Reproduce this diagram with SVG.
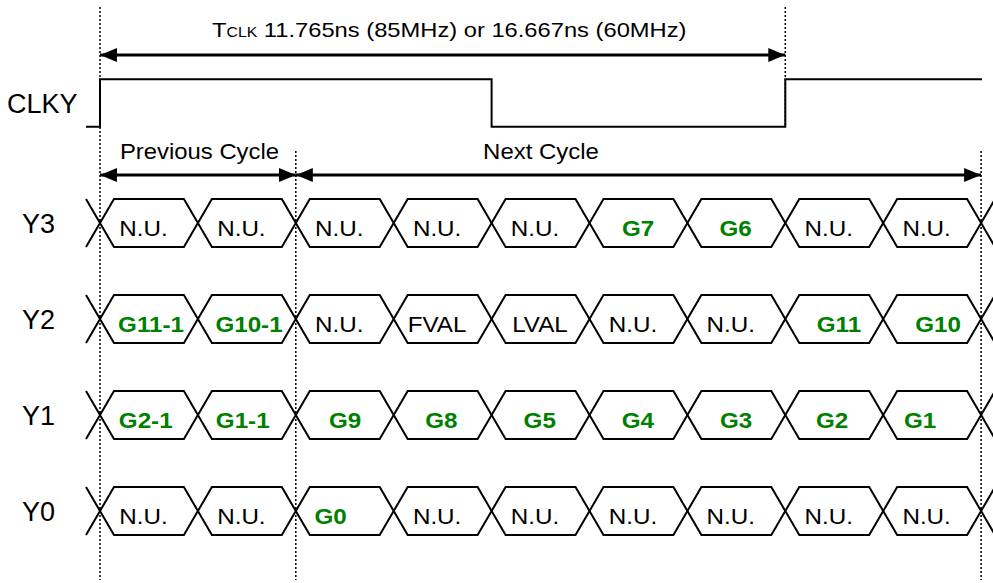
<svg xmlns="http://www.w3.org/2000/svg" width="993" height="583" viewBox="0 0 993 583">
<defs>
<marker id="ah" viewBox="0 0 17 14" refX="17" refY="7" markerWidth="17" markerHeight="14" markerUnits="userSpaceOnUse" orient="auto-start-reverse">
<path d="M0,0 L17,7 L0,14 Z" fill="#000"/>
</marker>
</defs>
<style>
.lbl{font-family:"Liberation Sans",Arial,sans-serif;font-size:27px;fill:#000}
.t{font-family:"Liberation Sans",Arial,sans-serif;font-size:22px;fill:#000;text-anchor:middle}
.g{font-family:"Liberation Sans",Arial,sans-serif;font-size:22px;font-weight:bold;fill:#008000;text-anchor:middle}
.hex{fill:none;stroke:#000;stroke-width:2;stroke-linejoin:miter}
.dot{stroke:#000;stroke-width:1.5;stroke-dasharray:2,2;fill:none}
.clk{fill:none;stroke:#000;stroke-width:2}
.arr{stroke:#000;stroke-width:3;fill:none}
</style>
<rect width="993" height="583" fill="#fff"/>
<g id="guides">
<line class="dot" x1="100" y1="7" x2="100" y2="580"/>
<line class="dot" x1="295.8" y1="151" x2="295.8" y2="580"/>
<line class="dot" x1="785.3" y1="7" x2="785.3" y2="127"/>
<line class="dot" x1="981.1" y1="151" x2="981.1" y2="580"/>
</g>
<g id="connectors">
<line class="arr" x1="100" y1="55" x2="785.3" y2="55" marker-start="url(#ah)" marker-end="url(#ah)"/>
<line class="arr" x1="100" y1="175" x2="295.8" y2="175" marker-start="url(#ah)" marker-end="url(#ah)"/>
<line class="arr" x1="295.8" y1="175" x2="981.1" y2="175" marker-start="url(#ah)" marker-end="url(#ah)"/>
</g>
<g id="tclk-label">
<text class="lbl" style="font-size:21px" transform="translate(212,37) scale(1.13,1)">T<tspan style="font-size:14px">CLK</tspan> 11.765ns (85MHz) or 16.667ns (60MHz)</text>
</g>
<g id="cycle-labels">
<text class="t" transform="translate(199.5,158.5) scale(1.085,1)">Previous Cycle</text>
<text class="t" transform="translate(541,158.5) scale(1.09,1)">Next Cycle</text>
</g>
<g id="clky">
<text class="lbl" x="7" y="113.3">CLKY</text>
<path class="clk" d="M86,126.7 H100 V79.3 H491.6 V126.7 H785.3 V79.3 H982"/>
</g>
<g id="labels">
<text class="lbl" x="22" y="233">Y3</text>
<text class="lbl" x="22" y="329">Y2</text>
<text class="lbl" x="22" y="425">Y1</text>
<text class="lbl" x="22" y="521">Y0</text>
</g>
<g id="row-y3">
<path class="hex" d="M86,199 L100,223 L86,247 M981.1,223 L995,199 M981.1,223 L995,247"/>
<g id="y3-c1"><polygon class="hex" points="100,223 114,199 183.9,199 197.9,223 183.9,247 114,247"/><text class="t" transform="translate(143.5,235.5) scale(1.1,1)">N.U.</text></g>
<g id="y3-c2"><polygon class="hex" points="197.9,223 211.9,199 281.8,199 295.8,223 281.8,247 211.9,247"/><text class="t" transform="translate(241.4,235.5) scale(1.1,1)">N.U.</text></g>
<g id="y3-c3"><polygon class="hex" points="295.8,223 309.8,199 379.7,199 393.7,223 379.7,247 309.8,247"/><text class="t" transform="translate(339.2,235.5) scale(1.1,1)">N.U.</text></g>
<g id="y3-c4"><polygon class="hex" points="393.7,223 407.7,199 477.6,199 491.6,223 477.6,247 407.7,247"/><text class="t" transform="translate(437.1,235.5) scale(1.1,1)">N.U.</text></g>
<g id="y3-c5"><polygon class="hex" points="491.6,223 505.6,199 575.5,199 589.5,223 575.5,247 505.6,247"/><text class="t" transform="translate(535,235.5) scale(1.1,1)">N.U.</text></g>
<g id="y3-c6"><polygon class="hex" points="589.5,223 603.5,199 673.4,199 687.4,223 673.4,247 603.5,247"/><text class="g" transform="translate(638,235.5) scale(1.1,1)">G7</text></g>
<g id="y3-c7"><polygon class="hex" points="687.4,223 701.4,199 771.3,199 785.3,223 771.3,247 701.4,247"/><text class="g" transform="translate(735.5,235.5) scale(1.1,1)">G6</text></g>
<g id="y3-c8"><polygon class="hex" points="785.3,223 799.3,199 869.2,199 883.2,223 869.2,247 799.3,247"/><text class="t" transform="translate(828.7,235.5) scale(1.1,1)">N.U.</text></g>
<g id="y3-c9"><polygon class="hex" points="883.2,223 897.2,199 967.1,199 981.1,223 967.1,247 897.2,247"/><text class="t" transform="translate(926.6,235.5) scale(1.1,1)">N.U.</text></g>
</g>
<g id="row-y2">
<path class="hex" d="M86,295 L100,319 L86,343 M981.1,319 L995,295 M981.1,319 L995,343"/>
<g id="y2-c1"><polygon class="hex" points="100,319 114,295 183.9,295 197.9,319 183.9,343 114,343"/><text class="g" transform="translate(151,331.5) scale(1.1,1)">G11-1</text></g>
<g id="y2-c2"><polygon class="hex" points="197.9,319 211.9,295 281.8,295 295.8,319 281.8,343 211.9,343"/><text class="g" transform="translate(249,331.5) scale(1.1,1)">G10-1</text></g>
<g id="y2-c3"><polygon class="hex" points="295.8,319 309.8,295 379.7,295 393.7,319 379.7,343 309.8,343"/><text class="t" transform="translate(339.2,331.5) scale(1.1,1)">N.U.</text></g>
<g id="y2-c4"><polygon class="hex" points="393.7,319 407.7,295 477.6,295 491.6,319 477.6,343 407.7,343"/><text class="t" transform="translate(437,331.5) scale(1.1,1)">FVAL</text></g>
<g id="y2-c5"><polygon class="hex" points="491.6,319 505.6,295 575.5,295 589.5,319 575.5,343 505.6,343"/><text class="t" transform="translate(540,331.5) scale(1.1,1)">LVAL</text></g>
<g id="y2-c6"><polygon class="hex" points="589.5,319 603.5,295 673.4,295 687.4,319 673.4,343 603.5,343"/><text class="t" transform="translate(633,331.5) scale(1.1,1)">N.U.</text></g>
<g id="y2-c7"><polygon class="hex" points="687.4,319 701.4,295 771.3,295 785.3,319 771.3,343 701.4,343"/><text class="t" transform="translate(730.8,331.5) scale(1.1,1)">N.U.</text></g>
<g id="y2-c8"><polygon class="hex" points="785.3,319 799.3,295 869.2,295 883.2,319 869.2,343 799.3,343"/><text class="g" transform="translate(839,331.5) scale(1.1,1)">G11</text></g>
<g id="y2-c9"><polygon class="hex" points="883.2,319 897.2,295 967.1,295 981.1,319 967.1,343 897.2,343"/><text class="g" transform="translate(938,331.5) scale(1.1,1)">G10</text></g>
</g>
<g id="row-y1">
<path class="hex" d="M86,391 L100,415 L86,439 M981.1,415 L995,391 M981.1,415 L995,439"/>
<g id="y1-c1"><polygon class="hex" points="100,415 114,391 183.9,391 197.9,415 183.9,439 114,439"/><text class="g" transform="translate(145.7,427.5) scale(1.1,1)">G2-1</text></g>
<g id="y1-c2"><polygon class="hex" points="197.9,415 211.9,391 281.8,391 295.8,415 281.8,439 211.9,439"/><text class="g" transform="translate(242.7,427.5) scale(1.1,1)">G1-1</text></g>
<g id="y1-c3"><polygon class="hex" points="295.8,415 309.8,391 379.7,391 393.7,415 379.7,439 309.8,439"/><text class="g" transform="translate(345,427.5) scale(1.1,1)">G9</text></g>
<g id="y1-c4"><polygon class="hex" points="393.7,415 407.7,391 477.6,391 491.6,415 477.6,439 407.7,439"/><text class="g" transform="translate(441.3,427.5) scale(1.1,1)">G8</text></g>
<g id="y1-c5"><polygon class="hex" points="491.6,415 505.6,391 575.5,391 589.5,415 575.5,439 505.6,439"/><text class="g" transform="translate(539.7,427.5) scale(1.1,1)">G5</text></g>
<g id="y1-c6"><polygon class="hex" points="589.5,415 603.5,391 673.4,391 687.4,415 673.4,439 603.5,439"/><text class="g" transform="translate(637.8,427.5) scale(1.1,1)">G4</text></g>
<g id="y1-c7"><polygon class="hex" points="687.4,415 701.4,391 771.3,391 785.3,415 771.3,439 701.4,439"/><text class="g" transform="translate(736,427.5) scale(1.1,1)">G3</text></g>
<g id="y1-c8"><polygon class="hex" points="785.3,415 799.3,391 869.2,391 883.2,415 869.2,439 799.3,439"/><text class="g" transform="translate(832,427.5) scale(1.1,1)">G2</text></g>
<g id="y1-c9"><polygon class="hex" points="883.2,415 897.2,391 967.1,391 981.1,415 967.1,439 897.2,439"/><text class="g" transform="translate(920,427.5) scale(1.1,1)">G1</text></g>
</g>
<g id="row-y0">
<path class="hex" d="M86,487 L100,511 L86,535 M981.1,511 L995,487 M981.1,511 L995,535"/>
<g id="y0-c1"><polygon class="hex" points="100,511 114,487 183.9,487 197.9,511 183.9,535 114,535"/><text class="t" transform="translate(143.5,523.5) scale(1.1,1)">N.U.</text></g>
<g id="y0-c2"><polygon class="hex" points="197.9,511 211.9,487 281.8,487 295.8,511 281.8,535 211.9,535"/><text class="t" transform="translate(241.4,523.5) scale(1.1,1)">N.U.</text></g>
<g id="y0-c3"><polygon class="hex" points="295.8,511 309.8,487 379.7,487 393.7,511 379.7,535 309.8,535"/><text class="g" transform="translate(330.5,523.5) scale(1.1,1)">G0</text></g>
<g id="y0-c4"><polygon class="hex" points="393.7,511 407.7,487 477.6,487 491.6,511 477.6,535 407.7,535"/><text class="t" transform="translate(437.1,523.5) scale(1.1,1)">N.U.</text></g>
<g id="y0-c5"><polygon class="hex" points="491.6,511 505.6,487 575.5,487 589.5,511 575.5,535 505.6,535"/><text class="t" transform="translate(535,523.5) scale(1.1,1)">N.U.</text></g>
<g id="y0-c6"><polygon class="hex" points="589.5,511 603.5,487 673.4,487 687.4,511 673.4,535 603.5,535"/><text class="t" transform="translate(633,523.5) scale(1.1,1)">N.U.</text></g>
<g id="y0-c7"><polygon class="hex" points="687.4,511 701.4,487 771.3,487 785.3,511 771.3,535 701.4,535"/><text class="t" transform="translate(730.8,523.5) scale(1.1,1)">N.U.</text></g>
<g id="y0-c8"><polygon class="hex" points="785.3,511 799.3,487 869.2,487 883.2,511 869.2,535 799.3,535"/><text class="t" transform="translate(828.7,523.5) scale(1.1,1)">N.U.</text></g>
<g id="y0-c9"><polygon class="hex" points="883.2,511 897.2,487 967.1,487 981.1,511 967.1,535 897.2,535"/><text class="t" transform="translate(926.6,523.5) scale(1.1,1)">N.U.</text></g>
</g>
</svg>
